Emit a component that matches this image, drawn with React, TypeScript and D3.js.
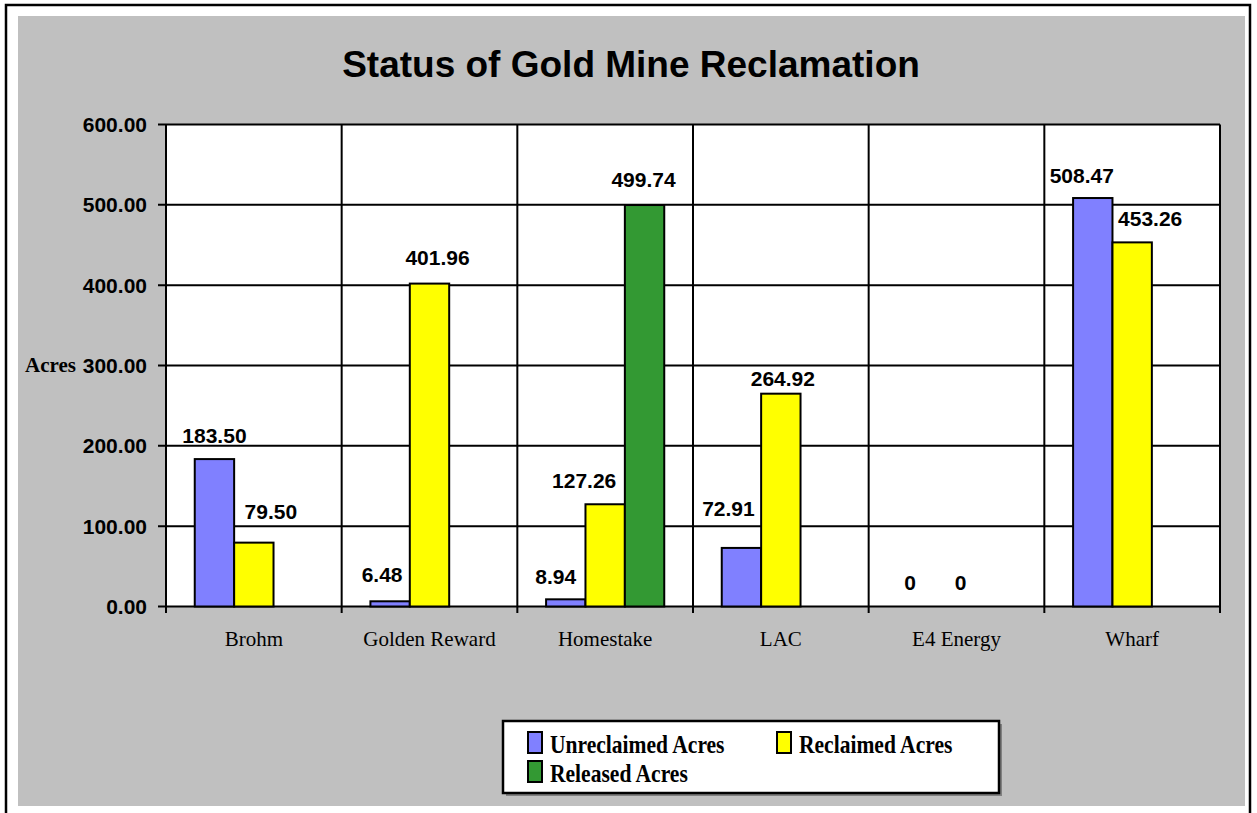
import React from 'react';
import * as d3 from 'd3';

// values
const categories = ['Brohm', 'Golden Reward', 'Homestake', 'LAC', 'E4 Energy', 'Wharf'];
const seriesNames = ['Unreclaimed Acres', 'Reclaimed Acres', 'Released Acres'];
const unreclaimed = [183.5, 6.48, 8.94, 72.91, 0, 508.47];
const reclaimed = [79.5, 401.96, 127.26, 264.92, 0, 453.26];
const released = [null, null, 499.74, null, null, null];
const yTicks = [0, 100, 200, 300, 400, 500, 600];

const colors = ['#8080FF', '#FFFF00', '#339933'];

// hand-placed label nudges (dx, dy from bar top), as in the original sheet
const labelNudge = [
  [[0, -24], [-8, -27], [-10, -23], [-13, -39], [-7, -24], [-11, -23]],
  [[17, -31], [8, -26], [-21, -24], [2, -15], [4, -24], [18, -24]],
  [[0, -25], [0, -25], [-1, -25.5], [0, -25], [0, -25], [0, -25]],
];

const W = 1257;
const H = 813;
const plot = { left: 166, right: 1220, top: 124.5, bottom: 606.5 };

const sans = '"Liberation Sans", Arial, sans-serif';
const serif = '"Liberation Serif", "Times New Roman", serif';

function fmt(v: number) {
  return v === 0 ? '0' : v.toFixed(2);
}

export default function App() {
  const x0 = d3.scaleBand<string>().domain(categories).range([plot.left, plot.right]).padding(0);
  const x1 = d3
    .scaleBand<string>()
    .domain(seriesNames)
    .range([0, x0.bandwidth()])
    .paddingInner(0)
    .paddingOuter(0.73);
  const y = d3.scaleLinear().domain([0, 600]).range([plot.bottom, plot.top]);

  const allSeries = [unreclaimed, reclaimed, released];
  const boundaries = categories.map((c) => x0(c) as number).concat([plot.right]);

  return (
    <svg width={W} height={H} style={{ position: 'absolute', left: 0, top: 0 }}>
      {/* outer frame */}
      <rect x={0} y={0} width={W} height={H} fill="#fff" />
      <path d={`M6,${H} V5 H1250 V${H}`} fill="none" stroke="#000" strokeWidth={2.5} />
      <rect x={18} y={16} width={1227} height={790} fill="#C0C0C0" />

      <text x={631} y={77} textAnchor="middle" fontFamily={sans} fontWeight="bold" fontSize={37}>
        Status of Gold Mine Reclamation
      </text>

      {/* plot area */}
      <rect
        x={plot.left}
        y={plot.top}
        width={plot.right - plot.left}
        height={plot.bottom - plot.top}
        fill="#fff"
      />
      {yTicks.map((t) => (
        <g key={'y' + t}>
          <line x1={158} x2={plot.right} y1={y(t)} y2={y(t)} stroke="#000" strokeWidth={2} />
          <text
            x={147}
            y={y(t)}
            dy="0.36em"
            textAnchor="end"
            fontFamily={sans}
            fontWeight="bold"
            fontSize={21}
          >
            {t.toFixed(2)}
          </text>
        </g>
      ))}
      {boundaries.map((bx, i) => (
        <line key={'v' + i} x1={bx} x2={bx} y1={plot.top} y2={613} stroke="#000" strokeWidth={2} />
      ))}

      <text x={76} y={372} textAnchor="end" fontFamily={serif} fontWeight="bold" fontSize={21}>
        Acres
      </text>

      {/* bars */}
      {allSeries.map((vals, si) =>
        vals.map((v, ci) => {
          if (v === null || v === 0) return null;
          const bx = (x0(categories[ci]) as number) + (x1(seriesNames[si]) as number);
          return (
            <rect
              key={`b${si}-${ci}`}
              x={bx}
              y={y(v)}
              width={x1.bandwidth()}
              height={y(0) - y(v)}
              fill={colors[si]}
              stroke="#000"
              strokeWidth={2}
            />
          );
        })
      )}

      {/* value labels */}
      {allSeries.map((vals, si) =>
        vals.map((v, ci) => {
          if (v === null) return null;
          const cx =
            (x0(categories[ci]) as number) + (x1(seriesNames[si]) as number) + x1.bandwidth() / 2;
          const [dx, dy] = labelNudge[si][ci];
          return (
            <text
              key={`l${si}-${ci}`}
              x={cx + dx}
              y={y(v) + dy}
              dy="0.36em"
              textAnchor="middle"
              fontFamily={sans}
              fontWeight="bold"
              fontSize={21}
            >
              {fmt(v)}
            </text>
          );
        })
      )}

      {/* category labels */}
      {categories.map((c) => (
        <text
          key={c}
          x={(x0(c) as number) + x0.bandwidth() / 2}
          y={646}
          textAnchor="middle"
          fontFamily={serif}
          fontSize={21}
        >
          {c}
        </text>
      ))}

      {/* legend */}
      <rect x={506} y={724} width={496} height={72} fill="#808080" />
      <rect x={503} y={721} width={496} height={72} fill="#fff" stroke="#000" strokeWidth={2.5} />
      {seriesNames.map((name, i) => {
        const lx = i === 1 ? 777 : 528;
        const ly = i === 2 ? 782 : 753;
        return (
          <g key={name}>
            <rect x={lx} y={ly - 21} width={14} height={21} fill={colors[i]} stroke="#000" strokeWidth={2} />
            <text
              transform={`translate(${lx + 22},${ly}) scale(0.98,1.13)`}
              fontFamily={serif}
              fontWeight="bold"
              fontSize={22}
            >
              {name}
            </text>
          </g>
        );
      })}
    </svg>
  );
}
